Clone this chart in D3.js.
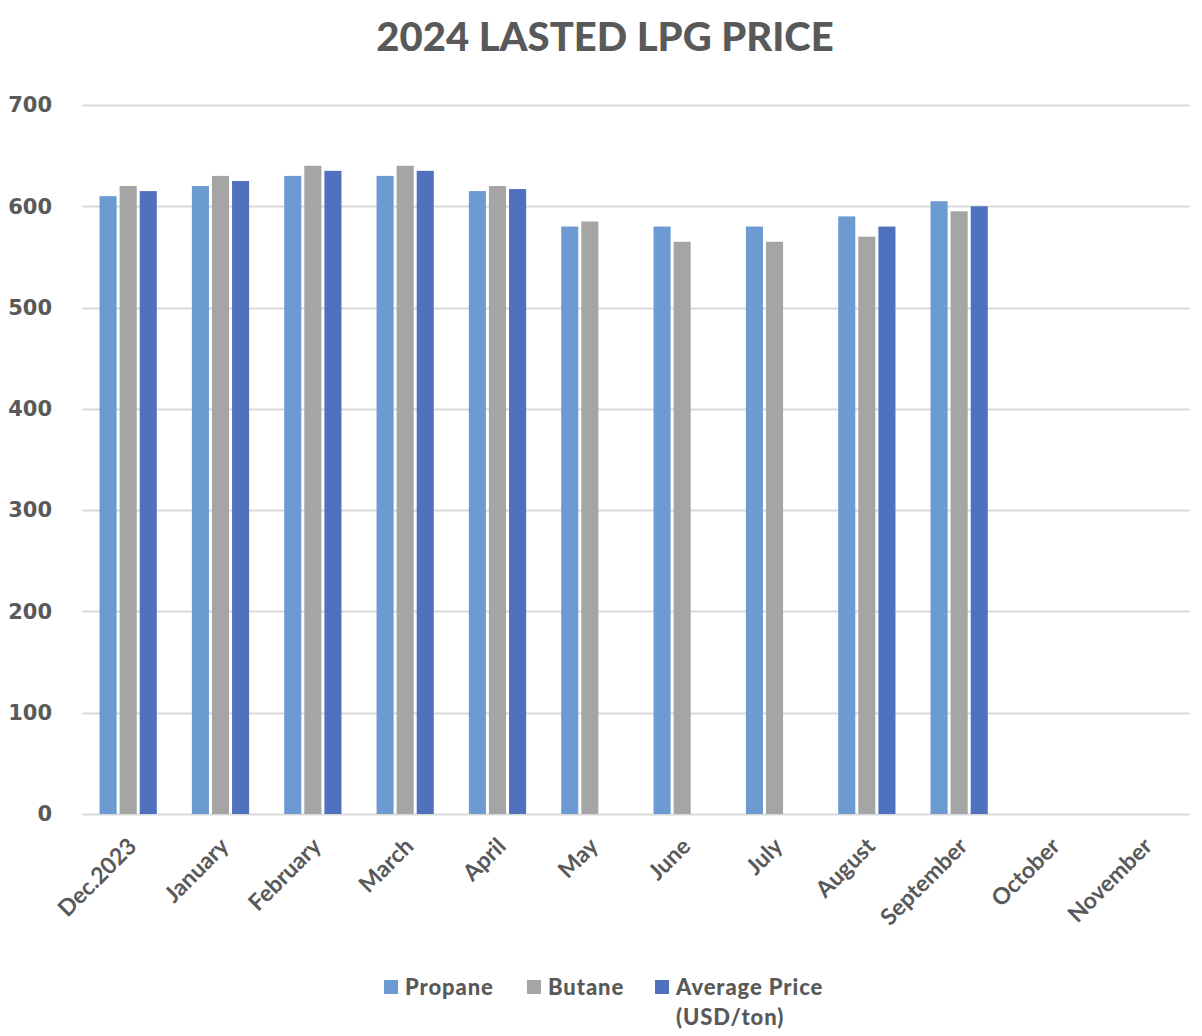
<!DOCTYPE html>
<html>
<head>
<meta charset="utf-8">
<script src="https://cdn.jsdelivr.net/npm/d3@7"></script>
<style>
  body { margin: 0; background: #fff; }
  text { fill: #595959; }
</style>
</head>
<body>
<div id="chart"></div>
<script>
// chart data
var months = ['Dec.2023', 'January', 'February', 'March', 'April', 'May', 'June', 'July', 'August', 'September', 'October', 'November']
var propane = [610, 620, 630, 630, 615, 580, 580, 580, 590, 605, null, null]
var butane = [620, 630, 640, 640, 620, 585, 565, 565, 570, 595, null, null]
var average = [615, 625, 635, 635, 617, null, null, null, 580, 600, null, null]
var seriesNames = ['Propane', 'Butane', 'Average Price (USD/ton)']
var seriesColors = ['#6b9bd1', '#a5a5a5', '#4f71be']
var yTicks = [0, 100, 200, 300, 400, 500, 600, 700]

var width = 1202
var height = 1036
var margin = {top: 105, right: 12, bottom: 222, left: 82}
var innerW = width - margin.left - margin.right
var innerH = height - margin.top - margin.bottom

var svg = d3.select('#chart')
  .append('svg')
  .attr('width', width)
  .attr('height', height)

svg.append('text')
  .attr('x', width / 2 + 4)
  .attr('y', 51)
  .attr('text-anchor', 'middle')
  .style('font-family', 'Lato, "Open Sans", sans-serif')
  .style('font-weight', '900')
  .style('font-size', '40px')
  .text('2024 LASTED LPG PRICE')

var g = svg.append('g')
  .attr('transform', 'translate(' + margin.left + ',' + margin.top + ')')

var x = d3.scaleBand()
  .domain(months)
  .range([0, innerW])
  .paddingInner(0.38)
  .paddingOuter(0.19)

var xs = d3.scaleBand()
  .domain([0, 1, 2])
  .range([0, x.bandwidth()])
  .paddingInner(0.15)

var y = d3.scaleLinear()
  .domain([0, 700])
  .range([innerH, 0])

// gridlines
g.append('g')
  .selectAll('line')
  .data(yTicks)
  .enter()
  .append('line')
  .attr('x1', 0)
  .attr('x2', innerW)
  .attr('y1', (d) => { return Math.round(y(d)) + 0.5 })
  .attr('y2', (d) => { return Math.round(y(d)) + 0.5 })
  .attr('stroke', '#d9d9d9')
  .attr('stroke-width', 2)

// y labels
g.append('g')
  .selectAll('text')
  .data(yTicks)
  .enter()
  .append('text')
  .attr('x', -30)
  .attr('y', (d) => { return y(d) })
  .attr('dy', '0.35em')
  .attr('text-anchor', 'end')
  .style('font-family', '"DejaVu Sans", sans-serif')
  .style('font-weight', 'bold')
  .style('font-size', '21px')
  .text((d) => { return d })

// bars
var allSeries = [propane, butane, average]
var rows = []
months.forEach((m, i) => {
  allSeries.forEach((s, k) => {
    if (s[i] != null) rows.push({month: m, k: k, value: s[i]})
  })
})

g.append('g')
  .selectAll('rect')
  .data(rows)
  .enter()
  .append('rect')
  .attr('x', (d) => { return x(d.month) + xs(d.k) })
  .attr('y', (d) => { return y(d.value) })
  .attr('width', xs.bandwidth())
  .attr('height', (d) => { return y(0) - y(d.value) })
  .attr('fill', (d) => { return seriesColors[d.k] })

// x labels
g.append('g')
  .selectAll('text')
  .data(months)
  .enter()
  .append('text')
  .attr('transform', (d) => {
    var cx = x(d) + x.bandwidth() / 2 + 4
    return 'translate(' + cx + ',' + (innerH + 28) + ') rotate(-45)'
  })
  .attr('text-anchor', 'end')
  .attr('dy', '0.35em')
  .style('font-family', 'Lato, "Open Sans", sans-serif')
  .style('font-weight', 'bold')
  .style('font-size', '23px')
  .text((d) => { return d })

// legend
var legend = svg.append('g')
var legendX = [384, 527, 655]
seriesNames.forEach((name, k) => {
  legend.append('rect')
    .attr('x', legendX[k])
    .attr('y', 980)
    .attr('width', 14)
    .attr('height', 14)
    .attr('fill', seriesColors[k])
  var t = legend.append('text')
    .attr('x', legendX[k] + 21)
    .attr('y', 995)
    .style('font-family', 'Lato, "Open Sans", sans-serif')
    .style('font-weight', '900')
    .style('font-size', '22px')
    .style('letter-spacing', '0.9px')
  if (k === 2) {
    t.append('tspan').attr('x', legendX[k] + 21).text('Average Price')
    t.append('tspan').attr('x', legendX[k] + 21).attr('dy', 30).text('(USD/ton)')
  } else {
    t.text(name)
  }
})
</script>
</body>
</html>
